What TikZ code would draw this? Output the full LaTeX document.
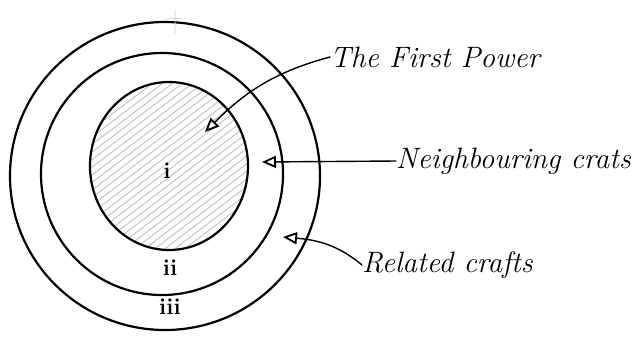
\documentclass[tikz,border=0pt]{standalone}
\usetikzlibrary{arrows.meta}

\tikzset{
  ring/.style={line width=2.2pt},
  hatch/.style={gray!50, line width=0.9pt},
  hand/.style={font=\fontsize{29.5}{34}\selectfont\itshape, inner sep=0pt},
  roman/.style={font=\fontsize{23}{26}\selectfont\bfseries, inner sep=0pt},
  pointer/.style={line width=1.4pt, -{Triangle[open, length=14pt, width=12pt, line width=1.8pt]}},
}

\begin{document}
\begin{tikzpicture}[x=1pt, y=-1pt, line cap=round, line join=round]

  %% ==== hatching in the inner ring ====
  \begin{scope}
    \clip (169,166) ellipse (79 and 84);
    \foreach \k in {0,...,45}
      \draw[hatch] (-150+10*\k,260) -- (100+10*\k,70);
  \end{scope}

  %% ==== rings ====
  \draw[ring] (165,176) ellipse (155 and 154);
  \draw[ring] (162,174) ellipse (121 and 121);
  \draw[ring] (169,166) ellipse (79 and 84);

  %% faint pencil mark at the top
  \draw[gray!40, line width=0.6pt] (175,10) -- (175,34) (165,19) -- (186,18);

  %% ==== ring numbers ====
  \node[roman] (one)   at (167,171) {i};
  \node[roman] (two)   at (170,268) {ii};
  \node[roman] (three) at (170,307) {iii};

  %% ==== labels ====
  \node[hand, anchor=west] (first)  at (330,57)  {The First Power};
  \node[hand, anchor=west] (neigh)  at (396,161) {Neighbouring crats};
  \node[hand, anchor=west] (relate) at (362,265) {Related crafts};

  \coordinate (tipone)   at (205,132);
  \coordinate (tiptwo)   at (262,162);
  \coordinate (tipthree) at (283,237);

  %% ==== pointers ====
  \draw[pointer] (first.west) to[out=195, in=45] (tipone);
  \draw[pointer] (neigh.west) -- (tiptwo);
  \draw[pointer] (relate.west) to[out=140, in=-5] (tipthree);

  \pgfresetboundingbox
  \path[use as bounding box] (0,0) rectangle (638,341);
\end{tikzpicture}
\end{document}
